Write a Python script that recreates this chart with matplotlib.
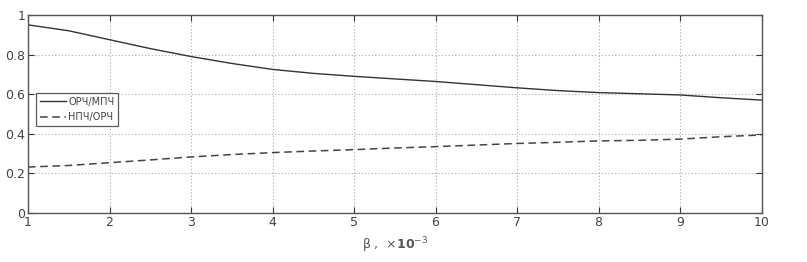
import matplotlib
matplotlib.use('Agg')
import matplotlib.pyplot as plt

plt.rcParams['font.family'] = ['Liberation Sans Narrow', 'DejaVu Sans Condensed', 'DejaVu Sans']

# beta, x10^-3
beta_orch = [1, 1.5, 2, 2.5, 3, 3.5, 4, 4.5, 5, 5.5, 6, 6.5, 7, 7.5, 8, 8.5, 9, 9.5, 10]
orch_mpch = [0.95, 0.92, 0.875, 0.83, 0.79, 0.755, 0.725, 0.705, 0.69, 0.677, 0.664, 0.648,
             0.632, 0.618, 0.608, 0.602, 0.596, 0.582, 0.57]

beta_npch = [1, 1.5, 2, 2.5, 3, 3.5, 4, 4.5, 5, 5.5, 6, 6.5, 7, 7.5, 8, 8.5, 9, 9.5, 10]
npch_orch = [0.232, 0.24, 0.254, 0.268, 0.283, 0.295, 0.305, 0.313, 0.32, 0.328, 0.335, 0.343,
             0.351, 0.357, 0.364, 0.367, 0.373, 0.385, 0.394]

xticks = [1, 2, 3, 4, 5, 6, 7, 8, 9, 10]
yticks = [0, 0.2, 0.4, 0.6, 0.8, 1]

fig = plt.figure(figsize=(8.07, 2.62), dpi=100)
ax = fig.add_axes([0.0347, 0.187, 0.909, 0.756])

ax.plot(beta_orch, orch_mpch, color='#333333', lw=1.0, label='ОРЧ/МПЧ')
ax.plot(beta_npch, npch_orch, color='#444444', lw=1.1, ls=(0, (5, 3)), label='НПЧ/ОРЧ')

ax.set_xlim(1, 10)
ax.set_ylim(0, 1)
ax.set_xticks(xticks)
ax.set_yticks(yticks)
ax.set_yticklabels(['0', '0.2', '0.4', '0.6', '0.8', '1'])
ax.grid(True, ls=(0, (1, 2)), color='#aaaaaa', lw=0.8)
ax.tick_params(direction='in', top=True, right=True, length=4, width=0.8,
               labelsize=9, labelcolor='#444444', colors='#333333', pad=2)
for s in ax.spines.values():
    s.set_color('#555555')
    s.set_linewidth(1.0)

ax.set_xlabel('β ,  ×$\\mathbf{10}^{-3}$', fontsize=9, color='#555555', labelpad=5)

leg = ax.legend(loc='upper left', bbox_to_anchor=(0.011, 0.606), borderaxespad=0,
                fontsize=7, frameon=True, fancybox=False, edgecolor='#333333',
                handlelength=2.7, borderpad=0.4, labelspacing=0.55, handletextpad=0.2)
leg.get_frame().set_linewidth(0.9)
for t in leg.get_texts():
    t.set_color('#444444')

fig.savefig('out.png', dpi=100)
